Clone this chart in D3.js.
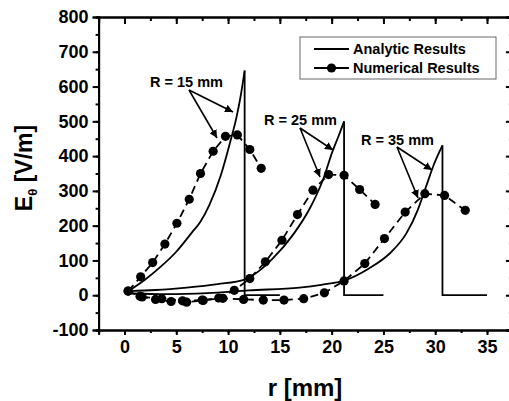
<!DOCTYPE html>
<html lang="en">
<head>
  <meta charset="UTF-8" />
  <title>E theta vs r</title>
  <style>
    body { margin: 0; background: #fff; }
    svg { display: block; font-family: "Liberation Sans", Arial, sans-serif; font-weight: bold; }
  </style>
</head>
<body>
  <div id="chart"></div>
  <script src="https://cdn.jsdelivr.net/npm/d3@7"></script>
  <script>
    // analytic results [r mm, E V/m]
    const analytic15 = [[0.4,12],[2,45],[3.5,82],[5,125],[6.5,180],[7.3,210],[8.2,260],[9.3,345],[10.2,440],[10.8,510],[11.2,570],[11.6,646],[11.6,0],[15,0]];
    const analytic25 = [[0.4,12],[3,15],[6,22],[9,32],[11.6,45],[13,70],[14.3,105],[16.3,175],[17.9,250],[19.2,335],[20.1,415],[20.7,460],[21.2,500],[21.2,0],[25,0]];
    const analytic35 = [[0.5,5],[4,3],[8,6],[12,14],[16.9,22],[19,30],[21.2,42],[23.6,77],[25.6,120],[27.2,177],[28.3,244],[29.1,311],[29.9,378],[30.7,431],[30.7,0],[35,0]];

    // numerical results
    const numR15 = [0.35,1.56,2.72,3.9,5.06,6.25,7.34,8.56,9.75,10.9,12.1,13.2];
    const numE15 = [12,53,94,147,207,276,350,414,457,461,419,365];
    const numR25 = [0.35,1.5,3.0,4.5,6.0,7.6,9.1,10.6,12.1,13.6,15.2,16.7,18.2,19.7,21.2,22.7,24.2];
    const numE25 = [12,-3,-12,-18,-20,-15,-8,14,48,96,158,232,302,347,345,304,261];
    const numR35 = [1.7,3.6,5.6,7.5,9.5,11.5,13.4,15.4,17.3,19.3,21.2,23.2,25.1,27.1,29.0,30.9,32.9];
    const numE35 = [-5,-10,-16,-14,-9,-12,-14,-14,-10,7,41,91,163,239,292,287,244];

    const xTicks = [0,5,10,15,20,25,30,35];
    const yTicks = [-100,0,100,200,300,400,500,600,700,800];

    const W = 509, H = 401;
    const x = d3.scaleLinear().domain([-2.5, 37.5]).range([98.6, 512.9]);
    const y = d3.scaleLinear().domain([-100, 800]).range([330, 17]);

    const svg = d3.select("#chart").append("svg").attr("width", W).attr("height", H);

    // frame axes
    const minorX = d3.range(-2.5, 37.6, 2.5);
    const minorY = d3.range(-100, 801, 50);
    svg.append("g").attr("transform", `translate(0,${y(-100)})`)
      .call(d3.axisBottom(x).tickValues(xTicks).tickSize(5).tickPadding(5).tickFormat(d => d));
    svg.append("g").attr("transform", `translate(${x(-2.5)},0)`)
      .call(d3.axisLeft(y).tickValues(yTicks).tickSize(6).tickPadding(4).tickFormat(d => d));
    svg.append("g").attr("transform", `translate(0,${y(800)})`)
      .call(d3.axisBottom(x).tickValues(xTicks).tickSize(7).tickFormat(""));
    svg.append("g").attr("transform", `translate(${x(37.5)},0)`)
      .call(d3.axisLeft(y).tickValues(yTicks).tickSize(7).tickFormat(""));
    // minor ticks
    svg.append("g").attr("transform", `translate(0,${y(-100)})`)
      .call(d3.axisBottom(x).tickValues(minorX).tickSize(3).tickFormat(""));
    svg.append("g").attr("transform", `translate(${x(-2.5)},0)`)
      .call(d3.axisLeft(y).tickValues(minorY).tickSize(3).tickFormat(""));
    svg.append("g").attr("transform", `translate(0,${y(800)})`)
      .call(d3.axisBottom(x).tickValues(minorX).tickSize(4).tickFormat(""));
    svg.append("g").attr("transform", `translate(${x(37.5)},0)`)
      .call(d3.axisLeft(y).tickValues(minorY).tickSize(4).tickFormat(""));

    svg.selectAll(".domain").attr("stroke", "#000").attr("stroke-width", 2);
    svg.selectAll(".tick line").attr("stroke", "#000").attr("stroke-width", 2);
    svg.selectAll(".tick text").attr("font-size", 18).attr("font-weight", "bold")
      .attr("font-family", "Liberation Sans, Arial, sans-serif").attr("fill", "#000");

    // analytic curves: smooth rise, then drop and zero tail
    const line = d3.line().x(d => x(d[0])).y(d => y(d[1]));
    [analytic15, analytic25, analytic35].forEach(a => {
      const peakIdx = a.findIndex((d, i) => i > 0 && d[0] === a[i - 1][0]);
      const smooth = a.slice(0, peakIdx);
      const tail = a.slice(peakIdx - 1);
      svg.append("path").attr("d", line.curve(d3.curveMonotoneX)(smooth))
        .attr("fill", "none").attr("stroke", "#000").attr("stroke-width", 1.8);
      svg.append("path").attr("d", line.curve(d3.curveLinear)(tail))
        .attr("fill", "none").attr("stroke", "#000").attr("stroke-width", 1.8);
    });

    // numerical curves
    const series = [[numR15, numE15], [numR25, numE25], [numR35, numE35]];
    series.forEach(([rs, es]) => {
      const pts = rs.map((r, i) => [r, es[i]]);
      svg.append("path").attr("d", line.curve(d3.curveLinear)(pts))
        .attr("fill", "none").attr("stroke", "#000").attr("stroke-width", 1.8)
        .attr("stroke-dasharray", "8,5");
      svg.append("g").selectAll("circle").data(pts).join("circle")
        .attr("cx", d => x(d[0])).attr("cy", d => y(d[1])).attr("r", 4.6).attr("fill", "#000");
    });

    // annotations
    const notes = [
      { t: "R = 15 mm", tx: 150, ty: 87, from: [189, 90], to: [[233, 112], [217, 138]] },
      { t: "R = 25 mm", tx: 264, ty: 125, from: [300, 128], to: [[333, 150], [320, 177]] },
      { t: "R = 35 mm", tx: 361, ty: 145, from: [397, 147], to: [[432, 170], [418, 198]] }
    ];
    svg.append("defs").append("marker").attr("id", "arr")
      .attr("viewBox", "0 0 10 10").attr("refX", 10).attr("refY", 5)
      .attr("markerWidth", 8).attr("markerHeight", 8).attr("markerUnits", "userSpaceOnUse")
      .attr("orient", "auto")
      .append("path").attr("d", "M0,0 L10,5 L0,10 z").attr("fill", "#000");
    notes.forEach(n => {
      svg.append("text").attr("x", n.tx).attr("y", n.ty).attr("font-size", 14.5).text(n.t);
      n.to.forEach(p => {
        svg.append("line").attr("x1", n.from[0]).attr("y1", n.from[1])
          .attr("x2", p[0]).attr("y2", p[1]).attr("stroke", "#000").attr("stroke-width", 1.6)
          .attr("marker-end", "url(#arr)");
      });
    });

    // legend
    const lg = svg.append("g");
    lg.append("rect").attr("x", 300).attr("y", 37).attr("width", 196).attr("height", 42)
      .attr("fill", "#fff").attr("stroke", "#666").attr("stroke-width", 1);
    lg.append("line").attr("x1", 314).attr("x2", 349).attr("y1", 49).attr("y2", 49)
      .attr("stroke", "#000").attr("stroke-width", 1.8);
    lg.append("text").attr("x", 353).attr("y", 54).attr("font-size", 14.5).text("Analytic Results");
    lg.append("line").attr("x1", 314).attr("x2", 349).attr("y1", 68).attr("y2", 68)
      .attr("stroke", "#000").attr("stroke-width", 1.8);
    lg.append("circle").attr("cx", 331.5).attr("cy", 68).attr("r", 4.6).attr("fill", "#000");
    lg.append("text").attr("x", 353).attr("y", 73).attr("font-size", 14.5).text("Numerical Results");

    // axis titles
    svg.append("text").attr("x", 305).attr("y", 396).attr("text-anchor", "middle")
      .attr("font-size", 24).text("r [mm]");
    const yl = svg.append("text").attr("transform", "translate(32,168) rotate(-90)")
      .attr("text-anchor", "middle").attr("font-size", 23);
    yl.append("tspan").text("E");
    yl.append("tspan").attr("font-size", 13).attr("dy", 5).text("θ");
    yl.append("tspan").attr("dy", -5).text(" [V/m]");
  </script>
</body>
</html>
